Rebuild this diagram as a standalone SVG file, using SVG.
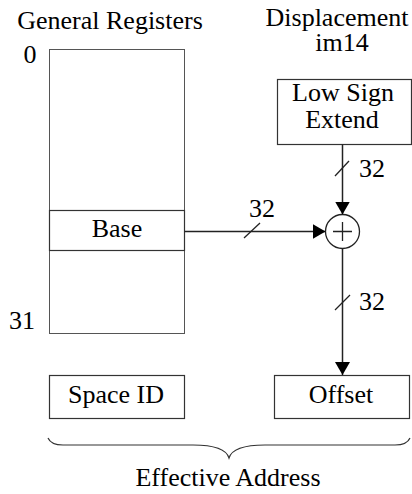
<svg xmlns="http://www.w3.org/2000/svg" width="412" height="494" viewBox="0 0 412 494">
  <style>
    .lbl { font-family: 'Liberation Serif', 'Times New Roman', 'DejaVu Serif', serif; font-size: 26px; fill: #000; }
    .mid { text-anchor: middle; }
    .box { fill: #fff; stroke: #333; stroke-width: 1.2; }
    .reg { fill: #fff; stroke: #555; stroke-width: 1; }
    .wire { fill: none; stroke: #222; stroke-width: 1.5; }
    .tick { fill: none; stroke: #222; stroke-width: 1.3; }
  </style>
  <defs>
    <marker id="arrow" markerUnits="userSpaceOnUse" markerWidth="14" markerHeight="15" refX="13" refY="7.5" orient="auto">
      <path d="M0,0 L13,7.5 L0,15 z" fill="#000"/>
    </marker>
  </defs>

  <!-- column headings -->
  <text class="lbl mid" x="110" y="29">General Registers</text>
  <text class="lbl mid" x="337" y="26">Displacement</text>
  <text class="lbl mid" x="342" y="51">im14</text>

  <!-- register file -->
  <g id="registers">
    <rect class="reg" x="49.5" y="49.5" width="135" height="284"/>
    <text class="lbl mid" x="30" y="63">0</text>
    <text class="lbl mid" x="22" y="329">31</text>
  </g>
  <g id="base">
    <rect class="box" x="49.5" y="210.5" width="135" height="40"/>
    <text class="lbl mid" x="117" y="237">Base</text>
  </g>

  <g id="sign-extend">
    <rect class="box" x="277.5" y="79.5" width="134" height="65"/>
    <text class="lbl mid" x="343" y="101">Low Sign</text>
    <text class="lbl mid" x="342" y="128">Extend</text>
  </g>

  <g id="adder">
    <circle cx="342.5" cy="231.5" r="17" fill="#fff" stroke="#222" stroke-width="1.3"/>
    <path d="M342.5,222 V241 M333,231.5 H352" stroke="#222" stroke-width="1.3" fill="none"/>
  </g>

  <g id="space-id">
    <rect class="box" x="49.5" y="375.5" width="135" height="43"/>
    <text class="lbl mid" x="116" y="403">Space ID</text>
  </g>

  <g id="offset">
    <rect class="box" x="274.5" y="375.5" width="135" height="43"/>
    <text class="lbl mid" x="341" y="403">Offset</text>
  </g>

  <!-- 32-bit data paths -->
  <g id="connectors">
    <line class="wire" x1="184.5" y1="231.5" x2="325.5" y2="231.5" marker-end="url(#arrow)"/>
    <line class="tick" x1="244" y1="238" x2="260" y2="223"/>
    <text class="lbl mid" x="262" y="217">32</text>

    <line class="wire" x1="342.5" y1="144.5" x2="342.5" y2="214.5" marker-end="url(#arrow)"/>
    <line class="tick" x1="335" y1="176" x2="349" y2="161"/>
    <text class="lbl" x="359" y="177">32</text>

    <line class="wire" x1="342.5" y1="248.5" x2="342.5" y2="375" marker-end="url(#arrow)"/>
    <line class="tick" x1="335" y1="310" x2="350" y2="295"/>
    <text class="lbl" x="359" y="310">32</text>
  </g>

  <!-- brace spanning both address parts -->
  <path d="M48,438 Q51,445 63,445 L193,445 C212,445 226,448 229,458 C232,448 246,445 265,445 L395,445 Q407,445 410,438" fill="none" stroke="#333" stroke-width="1.2"/>
  <text class="lbl mid" x="228" y="486">Effective Address</text>
</svg>
